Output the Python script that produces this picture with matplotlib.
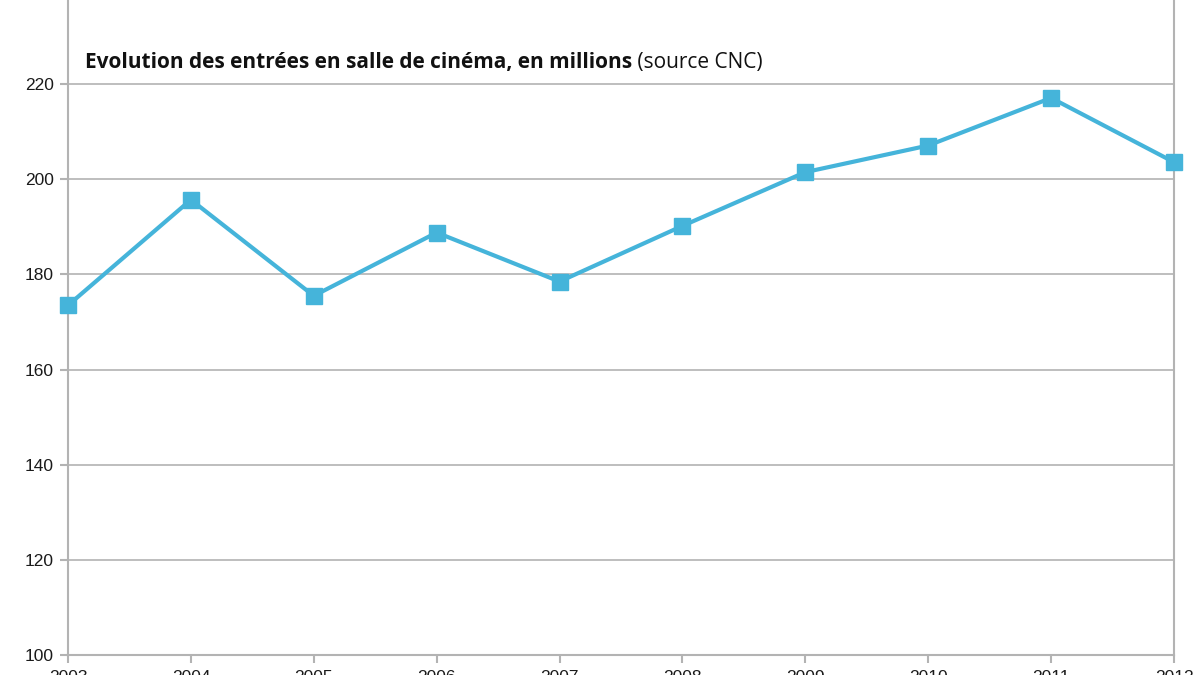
import matplotlib
matplotlib.use("Agg")
import matplotlib.pyplot as plt

years = [2003, 2004, 2005, 2006, 2007, 2008, 2009, 2010, 2011, 2012]
entries = [173.5, 195.7, 175.5, 188.8, 178.5, 190.2, 201.5, 207.1, 217.1, 203.6]
yticks = [100, 120, 140, 160, 180, 200, 220, 240]

title_bold = "Evolution des entrées en salle de cinéma, en millions"
title_rest = " (source CNC)"

fig = plt.figure(figsize=(12, 6.75), dpi=100)
ax = fig.add_axes([68/1200, 20/675, (1174-68)/1200, 666/675])

grid_c = "#b3b3b3"
line_c = "#45b4da"

ax.plot(years, entries, color=line_c, lw=3, marker="s", markersize=11,
        markerfacecolor=line_c, markeredgecolor=line_c, zorder=3, clip_on=False)

ax.set_xlim(2003, 2012)
ax.set_ylim(100, 240)
ax.set_yticks(yticks)
ax.set_xticks(years)
ax.yaxis.grid(True, color=grid_c, lw=1.2)
ax.set_axisbelow(True)
for s in ["left", "right", "bottom", "top"]:
    ax.spines[s].set_color(grid_c)
    ax.spines[s].set_linewidth(1.5)
ax.tick_params(axis="both", colors=grid_c, length=6, width=1.5, labelcolor="#1a1a1a",
               labelsize=12.5, pad=4)
ax.tick_params(axis="x", pad=5)
for lab in ax.get_xticklabels() + ax.get_yticklabels():
    lab.set_family("Liberation Sans")

t = fig.text(85/1200, 1 - 68/675, title_bold, fontsize=15, fontweight="bold",
             family="Open Sans", color="#111111", va="baseline")
fig.canvas.draw()
bb = t.get_window_extent()
fig.text(bb.x1/1200, 1 - 68/675, title_rest, fontsize=15, family="Open Sans",
         color="#111111", va="baseline")

fig.savefig("out.png", dpi=100)
